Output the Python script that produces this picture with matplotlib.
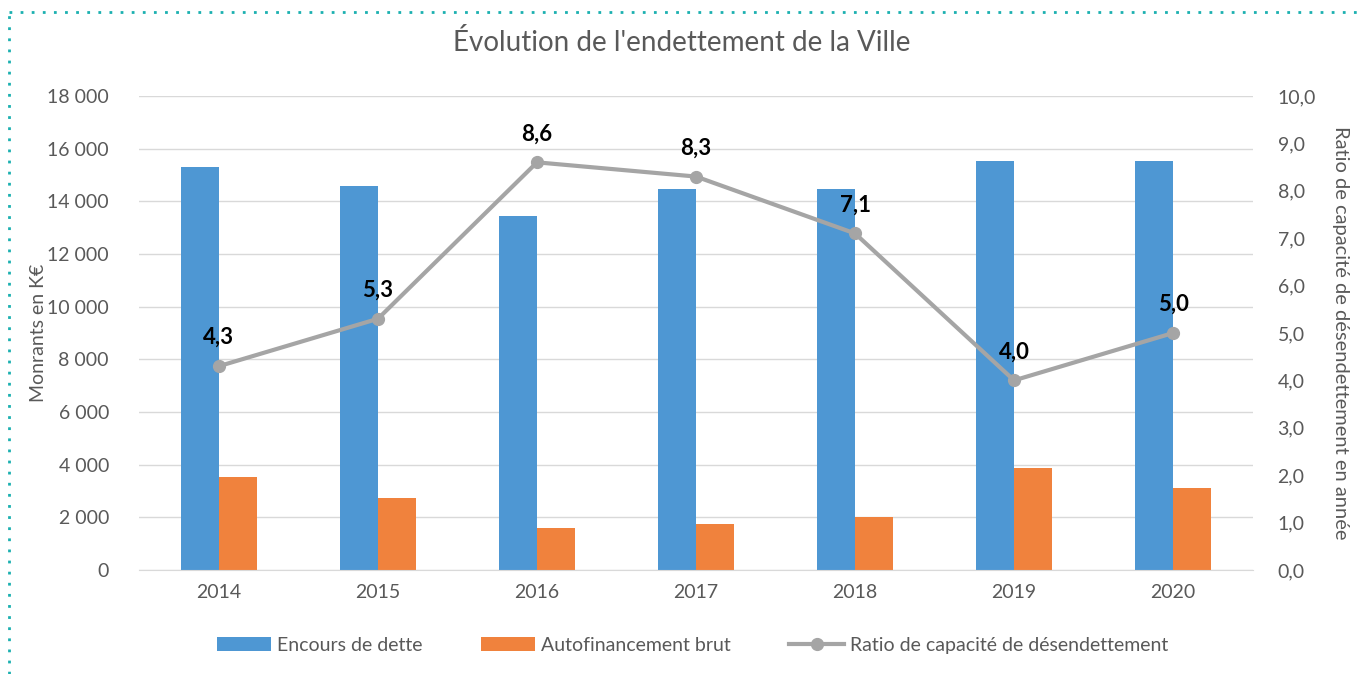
"""Évolution de l'endettement de la Ville — encours, autofinancement, ratio."""
import matplotlib
matplotlib.use("Agg")
import matplotlib.pyplot as plt
from matplotlib.lines import Line2D
from matplotlib.ticker import FuncFormatter
import numpy as np

plt.rcParams["font.family"] = ["Lato", "DejaVu Sans"]

YEARS = ["2014", "2015", "2016", "2017", "2018", "2019", "2020"]
ENCOURS = [15300, 14600, 13450, 14470, 14470, 15530, 15530]
AUTOFIN = [3540, 2720, 1580, 1740, 2000, 3890, 3110]
RATIO = [4.3, 5.3, 8.6, 8.3, 7.1, 4.0, 5.0]

BLUE = "#4E97D3"
ORANGE = "#F0823D"
GREY = "#A5A5A5"
TXT = "#595959"

fig = plt.figure(figsize=(13.63, 6.74), dpi=100)
ax = fig.add_axes([0.1023, 0.1543, 0.8167, 0.7033])
ax2 = ax.twinx()

xs = np.arange(len(YEARS))
w = 0.24
ax.bar(xs - w / 2, ENCOURS, w, color=BLUE, label="Encours de dette", zorder=2)
ax.bar(xs + w / 2, AUTOFIN, w, color=ORANGE, label="Autofinancement brut", zorder=2)

ax.set_xlim(-0.5, len(YEARS) - 0.5)
ax.set_ylim(0, 18000)
ax.set_yticks(np.arange(0, 18001, 2000))
ax.yaxis.set_major_formatter(FuncFormatter(lambda v, p: f"{int(v):,}".replace(",", " ")))
ax.set_xticks(xs)
ax.set_xticklabels(YEARS)
ax.grid(axis="y", color="#D9D9D9", lw=1)
ax.set_axisbelow(True)
for s in ["top", "left", "right"]:
    ax.spines[s].set_visible(False)
ax.spines["bottom"].set_color("#D9D9D9")
ax.tick_params(axis="both", length=0, labelsize=14, colors=TXT, pad=10)
ax.tick_params(axis="y", pad=22)
ax.set_ylabel("Monrants en K€", fontsize=14, color=TXT, labelpad=0)

ax2.plot(xs, RATIO, color=GREY, lw=3, marker="o", ms=8.5,
         label="Ratio de capacité de désendettement", zorder=3)
for x, r in zip(xs, RATIO):
    ax2.annotate(f"{r:.1f}".replace(".", ","), (x, r), xytext=(0, 13),
                 textcoords="offset points", ha="center", va="bottom",
                 fontsize=16, fontweight="bold", color="black")
ax2.set_ylim(0, 10)
ax2.set_yticks(np.arange(0, 10.01, 1))
ax2.yaxis.set_major_formatter(FuncFormatter(lambda v, p: f"{v:.1f}".replace(".", ",")))
for s in ["top", "left", "right", "bottom"]:
    ax2.spines[s].set_visible(False)
ax2.tick_params(axis="y", length=0, labelsize=14, colors=TXT, pad=18)
ax2.set_ylabel("Ratio de capacité de désendettement en année", fontsize=14.5,
               color=TXT, rotation=-90, labelpad=24)

fig.suptitle("Évolution de l'endettement de la Ville", fontsize=20, color=TXT,
             y=0.957)

h1, l1 = ax.get_legend_handles_labels()
h2, l2 = ax2.get_legend_handles_labels()
fig.legend(h1 + h2, l1 + l2, loc="center", bbox_to_anchor=(0.508, 0.043),
           ncol=3, frameon=False, fontsize=14, labelcolor=TXT,
           handlelength=2.8, columnspacing=3.0, handletextpad=0.3)

# dotted teal frame (left and top edges)
fig.add_artist(Line2D([0.0066, 0.0066], [0.0, 0.982], transform=fig.transFigure,
                      color="#1BB0B0", lw=2, ls=(0, (1, 3))))
fig.add_artist(Line2D([0.0066, 1.0], [0.982, 0.982], transform=fig.transFigure,
                      color="#1BB0B0", lw=2, ls=(0, (1, 3))))

fig.savefig("out.png", dpi=100)
